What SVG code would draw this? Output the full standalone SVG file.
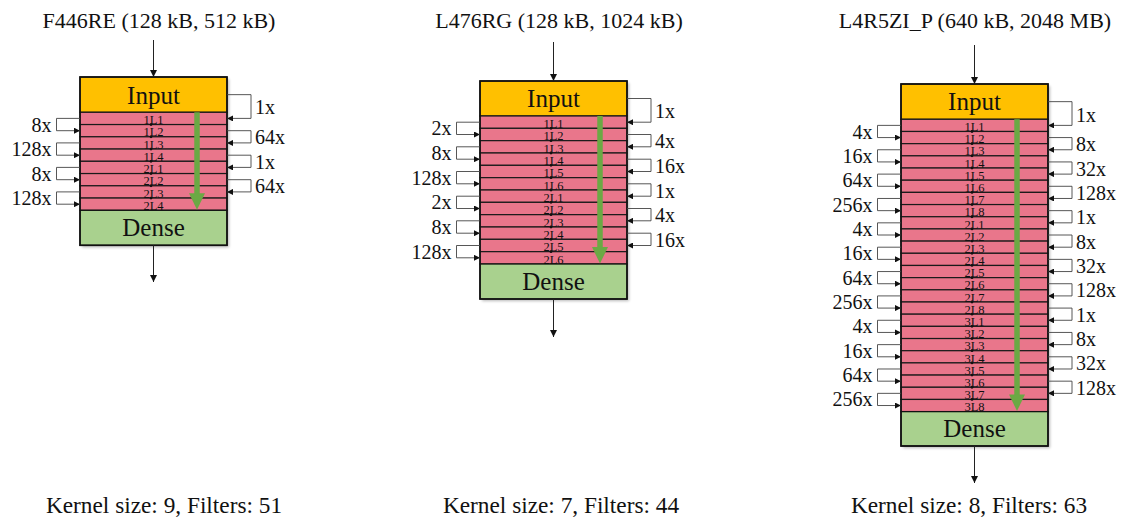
<svg xmlns="http://www.w3.org/2000/svg" width="1127" height="523" viewBox="0 0 1127 523" font-family="'Liberation Serif', 'DejaVu Serif', serif">
<style>
text{font-family:"Liberation Serif","DejaVu Serif",serif;fill:#111}
.inp{fill:#FFC000;stroke:#111;stroke-width:1.3}
.lay{fill:#E9768B;stroke:#1a1a1a;stroke-width:1.2}
.den{fill:#A9D18E;stroke:#111;stroke-width:1.3}
.ol{fill:none;stroke:#111;stroke-width:1.6}
.sh{fill:#000;opacity:0.28}
.big{font-size:25px;text-anchor:middle}
.ttl{font-size:22px;text-anchor:middle}
.cap{font-size:23.3px;text-anchor:middle}
.ll{font-size:12.5px;text-anchor:middle}
.lbl{font-size:20px}
.l{text-anchor:end}
.r{text-anchor:start}
.br{fill:none;stroke:#444;stroke-width:0.9;marker-end:url(#ah)}
.io{stroke:#222;stroke-width:1;marker-end:url(#ah2)}
.g{stroke:#6BA944;stroke-width:5.5}
.gh{fill:#6BA944}
.dot{fill:#111}
</style>
<defs>
<marker id="ah" viewBox="0 0 10 10" refX="10" refY="5" markerUnits="userSpaceOnUse" markerWidth="7" markerHeight="6" orient="auto"><path d="M0,0 L10,5 L0,10 z" fill="#111"/></marker>
<marker id="ah2" viewBox="0 0 10 10" refX="10" refY="5" markerUnits="userSpaceOnUse" markerWidth="8" markerHeight="7" orient="auto"><path d="M0,0 L10,5 L0,10 z" fill="#111"/></marker>
<filter id="blur" x="-10%" y="-10%" width="120%" height="120%"><feGaussianBlur stdDeviation="1.5"/></filter>
</defs>

<!-- Titles and captions -->
<text class="ttl" x="159" y="28">F446RE (128 kB, 512 kB)</text>
<text class="ttl" x="559" y="28">L476RG (128 kB, 1024 kB)</text>
<text class="ttl" x="975" y="28">L4R5ZI_P (640 kB, 2048 MB)</text>
<text class="cap" x="164" y="513">Kernel size: 9, Filters: 51</text>
<text class="cap" x="561" y="513">Kernel size: 7, Filters: 44</text>
<text class="cap" x="969" y="513">Kernel size: 8, Filters: 63</text>

<!-- Shadows -->
<rect class="sh" x="82" y="79" width="147" height="168.3" filter="url(#blur)"/>
<rect class="sh" x="482" y="83" width="147" height="218" filter="url(#blur)"/>
<rect class="sh" x="903" y="86" width="147" height="362" filter="url(#blur)"/>

<!-- Diagram 1 -->
<g id="d1-input"><rect class="inp" x="80" y="77" width="147" height="35.3"/><text class="big" x="153.5" y="103.5">Input</text></g>
<g id="d1-1L1"><rect class="lay" x="80" y="112.3" width="147" height="12.25"/><text class="ll" x="153.5" y="124.2">1L1</text></g>
<g id="d1-1L2"><rect class="lay" x="80" y="124.55" width="147" height="12.25"/><text class="ll" x="153.5" y="136.4">1L2</text></g>
<g id="d1-1L3"><rect class="lay" x="80" y="136.8" width="147" height="12.25"/><text class="ll" x="153.5" y="148.7">1L3</text></g>
<g id="d1-1L4"><rect class="lay" x="80" y="149.05" width="147" height="12.25"/><text class="ll" x="153.5" y="160.9">1L4</text></g>
<g id="d1-2L1"><rect class="lay" x="80" y="161.3" width="147" height="12.25"/><text class="ll" x="153.5" y="173.2">2L1</text></g>
<g id="d1-2L2"><rect class="lay" x="80" y="173.55" width="147" height="12.25"/><text class="ll" x="153.5" y="185.4">2L2</text></g>
<g id="d1-2L3"><rect class="lay" x="80" y="185.8" width="147" height="12.25"/><text class="ll" x="153.5" y="197.7">2L3</text></g>
<g id="d1-2L4"><rect class="lay" x="80" y="198.05" width="147" height="12.25"/><text class="ll" x="153.5" y="209.9">2L4</text></g>
<g id="d1-dense"><rect class="den" x="80" y="210.3" width="147" height="35"/><text class="big" x="153.5" y="236.3">Dense</text></g>
<rect class="ol" x="80" y="77" width="147" height="168.3"/>

<!-- Diagram 2 -->
<g id="d2-input"><rect class="inp" x="480" y="81" width="147" height="35"/><text class="big" x="553.5" y="107.3">Input</text></g>
<g id="d2-1L1"><rect class="lay" x="480" y="116" width="147" height="12.33"/><text class="ll" x="553.5" y="127.9">1L1</text></g>
<g id="d2-1L2"><rect class="lay" x="480" y="128.33" width="147" height="12.33"/><text class="ll" x="553.5" y="140.3">1L2</text></g>
<g id="d2-1L3"><rect class="lay" x="480" y="140.67" width="147" height="12.33"/><text class="ll" x="553.5" y="152.6">1L3</text></g>
<g id="d2-1L4"><rect class="lay" x="480" y="153" width="147" height="12.33"/><text class="ll" x="553.5" y="164.9">1L4</text></g>
<g id="d2-1L5"><rect class="lay" x="480" y="165.33" width="147" height="12.33"/><text class="ll" x="553.5" y="177.3">1L5</text></g>
<g id="d2-1L6"><rect class="lay" x="480" y="177.67" width="147" height="12.33"/><text class="ll" x="553.5" y="189.6">1L6</text></g>
<g id="d2-2L1"><rect class="lay" x="480" y="190" width="147" height="12.33"/><text class="ll" x="553.5" y="201.9">2L1</text></g>
<g id="d2-2L2"><rect class="lay" x="480" y="202.33" width="147" height="12.33"/><text class="ll" x="553.5" y="214.3">2L2</text></g>
<g id="d2-2L3"><rect class="lay" x="480" y="214.67" width="147" height="12.33"/><text class="ll" x="553.5" y="226.6">2L3</text></g>
<g id="d2-2L4"><rect class="lay" x="480" y="227" width="147" height="12.33"/><text class="ll" x="553.5" y="238.9">2L4</text></g>
<g id="d2-2L5"><rect class="lay" x="480" y="239.33" width="147" height="12.33"/><text class="ll" x="553.5" y="251.3">2L5</text></g>
<g id="d2-2L6"><rect class="lay" x="480" y="251.67" width="147" height="12.33"/><text class="ll" x="553.5" y="263.6">2L6</text></g>
<g id="d2-dense"><rect class="den" x="480" y="264" width="147" height="35"/><text class="big" x="553.5" y="290">Dense</text></g>
<rect class="ol" x="480" y="81" width="147" height="218"/>

<!-- Diagram 3 -->
<g id="d3-input"><rect class="inp" x="901" y="84" width="147" height="35.3"/><text class="big" x="974.5" y="110.4">Input</text></g>
<g id="d3-1L1"><rect class="lay" x="901" y="119.3" width="147" height="12.18"/><text class="ll" x="974.5" y="131.1">1L1</text></g>
<g id="d3-1L2"><rect class="lay" x="901" y="131.48" width="147" height="12.18"/><text class="ll" x="974.5" y="143.3">1L2</text></g>
<g id="d3-1L3"><rect class="lay" x="901" y="143.66" width="147" height="12.18"/><text class="ll" x="974.5" y="155.4">1L3</text></g>
<g id="d3-1L4"><rect class="lay" x="901" y="155.84" width="147" height="12.18"/><text class="ll" x="974.5" y="167.6">1L4</text></g>
<g id="d3-1L5"><rect class="lay" x="901" y="168.02" width="147" height="12.18"/><text class="ll" x="974.5" y="179.8">1L5</text></g>
<g id="d3-1L6"><rect class="lay" x="901" y="180.2" width="147" height="12.18"/><text class="ll" x="974.5" y="192">1L6</text></g>
<g id="d3-1L7"><rect class="lay" x="901" y="192.38" width="147" height="12.18"/><text class="ll" x="974.5" y="204.2">1L7</text></g>
<g id="d3-1L8"><rect class="lay" x="901" y="204.56" width="147" height="12.18"/><text class="ll" x="974.5" y="216.3">1L8</text></g>
<g id="d3-2L1"><rect class="lay" x="901" y="216.74" width="147" height="12.18"/><text class="ll" x="974.5" y="228.5">2L1</text></g>
<g id="d3-2L2"><rect class="lay" x="901" y="228.92" width="147" height="12.18"/><text class="ll" x="974.5" y="240.7">2L2</text></g>
<g id="d3-2L3"><rect class="lay" x="901" y="241.1" width="147" height="12.18"/><text class="ll" x="974.5" y="252.9">2L3</text></g>
<g id="d3-2L4"><rect class="lay" x="901" y="253.28" width="147" height="12.18"/><text class="ll" x="974.5" y="265.1">2L4</text></g>
<g id="d3-2L5"><rect class="lay" x="901" y="265.46" width="147" height="12.18"/><text class="ll" x="974.5" y="277.2">2L5</text></g>
<g id="d3-2L6"><rect class="lay" x="901" y="277.64" width="147" height="12.18"/><text class="ll" x="974.5" y="289.4">2L6</text></g>
<g id="d3-2L7"><rect class="lay" x="901" y="289.82" width="147" height="12.18"/><text class="ll" x="974.5" y="301.6">2L7</text></g>
<g id="d3-2L8"><rect class="lay" x="901" y="302" width="147" height="12.18"/><text class="ll" x="974.5" y="313.8">2L8</text></g>
<g id="d3-3L1"><rect class="lay" x="901" y="314.18" width="147" height="12.18"/><text class="ll" x="974.5" y="326">3L1</text></g>
<g id="d3-3L2"><rect class="lay" x="901" y="326.36" width="147" height="12.18"/><text class="ll" x="974.5" y="338.1">3L2</text></g>
<g id="d3-3L3"><rect class="lay" x="901" y="338.54" width="147" height="12.18"/><text class="ll" x="974.5" y="350.3">3L3</text></g>
<g id="d3-3L4"><rect class="lay" x="901" y="350.72" width="147" height="12.18"/><text class="ll" x="974.5" y="362.5">3L4</text></g>
<g id="d3-3L5"><rect class="lay" x="901" y="362.9" width="147" height="12.18"/><text class="ll" x="974.5" y="374.7">3L5</text></g>
<g id="d3-3L6"><rect class="lay" x="901" y="375.08" width="147" height="12.18"/><text class="ll" x="974.5" y="386.9">3L6</text></g>
<g id="d3-3L7"><rect class="lay" x="901" y="387.26" width="147" height="12.18"/><text class="ll" x="974.5" y="399">3L7</text></g>
<g id="d3-3L8"><rect class="lay" x="901" y="399.44" width="147" height="12.18"/><text class="ll" x="974.5" y="411.2">3L8</text></g>
<g id="d3-dense"><rect class="den" x="901" y="411.62" width="147" height="34.4"/><text class="big" x="974.5" y="437.3">Dense</text></g>
<rect class="ol" x="901" y="84" width="147" height="362"/>

<!-- Connectors -->
<g id="connectors">
<line class="io" x1="153.5" y1="40" x2="153.5" y2="77"/>
<line class="io" x1="153.5" y1="245.3" x2="153.5" y2="282"/>
<line class="g" x1="197" y1="112.3" x2="197" y2="194"/>
<polygon class="gh" points="189,193.3 205,193.3 197,209.8"/>
<path class="br" d="M80,118.4 H56.5 V130.7 H80"/>
<path class="br" d="M80,142.9 H56.5 V155.2 H80"/>
<path class="br" d="M80,167.4 H56.5 V179.7 H80"/>
<path class="br" d="M80,191.9 H56.5 V204.2 H80"/>
<path class="br" d="M227,94.65 H251 V118.4 H227"/>
<path class="br" d="M227,130.7 H251 V142.9 H227"/>
<path class="br" d="M227,155.2 H251 V167.4 H227"/>
<path class="br" d="M227,179.7 H251 V191.9 H227"/>
<g class="dot">
<circle cx="151" cy="124.55" r="1.4"/><circle cx="151" cy="136.8" r="1.4"/><circle cx="151" cy="149.05" r="1.4"/><circle cx="151" cy="161.3" r="1.4"/><circle cx="151" cy="173.55" r="1.4"/><circle cx="151" cy="185.8" r="1.4"/><circle cx="151" cy="198.05" r="1.4"/>
</g>

<line class="io" x1="553.5" y1="42" x2="553.5" y2="81"/>
<line class="io" x1="553.5" y1="299" x2="553.5" y2="337"/>
<line class="g" x1="600" y1="116" x2="600" y2="247.5"/>
<polygon class="gh" points="592,247 608,247 600,263.5"/>
<path class="br" d="M480,122.2 H456.5 V134.5 H480"/>
<path class="br" d="M480,146.8 H456.5 V159.2 H480"/>
<path class="br" d="M480,171.5 H456.5 V183.8 H480"/>
<path class="br" d="M480,196.2 H456.5 V208.5 H480"/>
<path class="br" d="M480,220.8 H456.5 V233.2 H480"/>
<path class="br" d="M480,245.5 H456.5 V257.8 H480"/>
<path class="br" d="M627,98.5 H651 V122.2 H627"/>
<path class="br" d="M627,134.5 H651 V146.8 H627"/>
<path class="br" d="M627,159.2 H651 V171.5 H627"/>
<path class="br" d="M627,183.8 H651 V196.2 H627"/>
<path class="br" d="M627,208.5 H651 V220.8 H627"/>
<path class="br" d="M627,233.2 H651 V245.5 H627"/>
<g class="dot">
<circle cx="551" cy="128.33" r="1.4"/><circle cx="551" cy="140.67" r="1.4"/><circle cx="551" cy="153" r="1.4"/><circle cx="551" cy="165.33" r="1.4"/><circle cx="551" cy="177.67" r="1.4"/><circle cx="551" cy="190" r="1.4"/><circle cx="551" cy="202.33" r="1.4"/><circle cx="551" cy="214.67" r="1.4"/><circle cx="551" cy="227" r="1.4"/><circle cx="551" cy="239.33" r="1.4"/><circle cx="551" cy="251.67" r="1.4"/>
</g>

<line class="io" x1="974.5" y1="45" x2="974.5" y2="84"/>
<line class="io" x1="974.5" y1="446" x2="974.5" y2="483"/>
<line class="g" x1="1017" y1="119.3" x2="1017" y2="395"/>
<polygon class="gh" points="1009,394.6 1025,394.6 1017,411"/>
<path class="br" d="M901,125.39 H877.5 V137.57 H901"/>
<path class="br" d="M901,149.75 H877.5 V161.93 H901"/>
<path class="br" d="M901,174.11 H877.5 V186.29 H901"/>
<path class="br" d="M901,198.47 H877.5 V210.65 H901"/>
<path class="br" d="M901,222.83 H877.5 V235.01 H901"/>
<path class="br" d="M901,247.19 H877.5 V259.37 H901"/>
<path class="br" d="M901,271.55 H877.5 V283.73 H901"/>
<path class="br" d="M901,295.91 H877.5 V308.09 H901"/>
<path class="br" d="M901,320.27 H877.5 V332.45 H901"/>
<path class="br" d="M901,344.63 H877.5 V356.81 H901"/>
<path class="br" d="M901,368.99 H877.5 V381.17 H901"/>
<path class="br" d="M901,393.35 H877.5 V405.53 H901"/>
<path class="br" d="M1048,101.65 H1072 V125.39 H1048"/>
<path class="br" d="M1048,137.57 H1072 V149.75 H1048"/>
<path class="br" d="M1048,161.93 H1072 V174.11 H1048"/>
<path class="br" d="M1048,186.29 H1072 V198.47 H1048"/>
<path class="br" d="M1048,210.65 H1072 V222.83 H1048"/>
<path class="br" d="M1048,235.01 H1072 V247.19 H1048"/>
<path class="br" d="M1048,259.37 H1072 V271.55 H1048"/>
<path class="br" d="M1048,283.73 H1072 V295.91 H1048"/>
<path class="br" d="M1048,308.09 H1072 V320.27 H1048"/>
<path class="br" d="M1048,332.45 H1072 V344.63 H1048"/>
<path class="br" d="M1048,356.81 H1072 V368.99 H1048"/>
<path class="br" d="M1048,381.17 H1072 V393.35 H1048"/>
<g class="dot">
<circle cx="972" cy="131.48" r="1.4"/><circle cx="972" cy="143.66" r="1.4"/><circle cx="972" cy="155.84" r="1.4"/><circle cx="972" cy="168.02" r="1.4"/><circle cx="972" cy="180.2" r="1.4"/><circle cx="972" cy="192.38" r="1.4"/><circle cx="972" cy="204.56" r="1.4"/><circle cx="972" cy="216.74" r="1.4"/><circle cx="972" cy="228.92" r="1.4"/><circle cx="972" cy="241.1" r="1.4"/><circle cx="972" cy="253.28" r="1.4"/><circle cx="972" cy="265.46" r="1.4"/><circle cx="972" cy="277.64" r="1.4"/><circle cx="972" cy="289.82" r="1.4"/><circle cx="972" cy="302" r="1.4"/><circle cx="972" cy="314.18" r="1.4"/><circle cx="972" cy="326.36" r="1.4"/><circle cx="972" cy="338.54" r="1.4"/><circle cx="972" cy="350.72" r="1.4"/><circle cx="972" cy="362.9" r="1.4"/><circle cx="972" cy="375.08" r="1.4"/><circle cx="972" cy="387.26" r="1.4"/><circle cx="972" cy="399.44" r="1.4"/>
</g>
</g>

<!-- Connector labels -->
<g id="labels" class="lbl">
<text class="l" x="51.5" y="131.5">8x</text>
<text class="l" x="51.5" y="156">128x</text>
<text class="l" x="51.5" y="180.5">8x</text>
<text class="l" x="51.5" y="205">128x</text>
<text class="r" x="255" y="114">1x</text>
<text class="r" x="255" y="144.3">64x</text>
<text class="r" x="255" y="168.8">1x</text>
<text class="r" x="255" y="193.3">64x</text>

<text class="l" x="451.5" y="135.3">2x</text>
<text class="l" x="451.5" y="160">8x</text>
<text class="l" x="451.5" y="184.7">128x</text>
<text class="l" x="451.5" y="209.3">2x</text>
<text class="l" x="451.5" y="234">8x</text>
<text class="l" x="451.5" y="258.7">128x</text>
<text class="r" x="655" y="117.8">1x</text>
<text class="r" x="655" y="148.2">4x</text>
<text class="r" x="655" y="172.8">16x</text>
<text class="r" x="655" y="197.5">1x</text>
<text class="r" x="655" y="222.2">4x</text>
<text class="r" x="655" y="246.8">16x</text>

<text class="l" x="872.5" y="138.5">4x</text>
<text class="l" x="872.5" y="162.8">16x</text>
<text class="l" x="872.5" y="187.2">64x</text>
<text class="l" x="872.5" y="211.6">256x</text>
<text class="l" x="872.5" y="235.9">4x</text>
<text class="l" x="872.5" y="260.3">16x</text>
<text class="l" x="872.5" y="284.6">64x</text>
<text class="l" x="872.5" y="309">256x</text>
<text class="l" x="872.5" y="333.4">4x</text>
<text class="l" x="872.5" y="357.7">16x</text>
<text class="l" x="872.5" y="382.1">64x</text>
<text class="l" x="872.5" y="406.4">256x</text>
<text class="r" x="1076" y="122">1x</text>
<text class="r" x="1076" y="151.2">8x</text>
<text class="r" x="1076" y="175.5">32x</text>
<text class="r" x="1076" y="199.9">128x</text>
<text class="r" x="1076" y="224.2">1x</text>
<text class="r" x="1076" y="248.6">8x</text>
<text class="r" x="1076" y="273">32x</text>
<text class="r" x="1076" y="297.3">128x</text>
<text class="r" x="1076" y="321.7">1x</text>
<text class="r" x="1076" y="346">8x</text>
<text class="r" x="1076" y="370.4">32x</text>
<text class="r" x="1076" y="394.8">128x</text>
</g>
</svg>
